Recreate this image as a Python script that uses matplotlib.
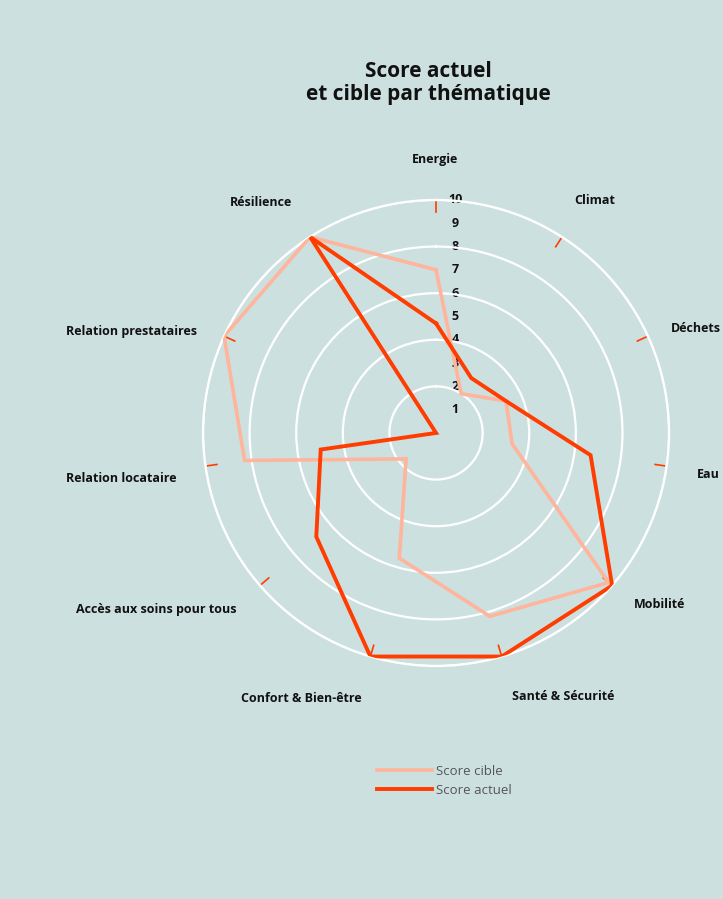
import numpy as np
import matplotlib.pyplot as plt
from matplotlib.transforms import offset_copy

plt.switch_backend("Agg")
plt.rcParams["font.family"] = ["Open Sans", "DejaVu Sans"]

categories = [
    "Energie", "Climat", "Déchets", "Eau", "Mobilité", "Santé & Sécurité",
    "Confort & Bien-être", "Accès aux soins pour tous", "Relation locataire",
    "Relation prestataires", "Résilience",
]
score_cible = [7.0, 2.0, 3.3, 3.3, 9.8, 8.2, 5.6, 1.7, 8.3, 10.0, 10.0]
score_actuel = [4.7, 2.8, 3.3, 6.7, 10.0, 10.0, 10.0, 6.8, 5.0, 0.0, 10.0]
radial_ticks = list(range(1, 11))
grid_levels = [2, 4, 6, 8, 10]

# where the category labels sit (pixel centres in the 723x899 canvas)
label_xy = [
    (435, 160), (595, 200), (696, 328), (708, 474), (660, 605), (563, 697),
    (301, 698), (156, 609), (121, 478), (131, 331), (261, 202),
]

W, H = 723, 899
BG = "#cde0e0"
C_CIBLE = "#ffb49c"
C_ACTUEL = "#ff3d00"

fig = plt.figure(figsize=(W / 100, H / 100), dpi=100, facecolor=BG)
ax = fig.add_axes([0.2808, 0.2592, 0.6446, 0.5184], projection="polar")
ax.set_facecolor(BG)
ax.patch.set_alpha(0)
ax.set_theta_zero_location("N")
ax.set_theta_direction(-1)
ax.set_ylim(0, 10)

n = len(categories)
theta = np.linspace(0, 2 * np.pi, n, endpoint=False)

# concentric white rings, no spokes
ax.set_xticks([])
ax.set_yticks(grid_levels)
ax.set_yticklabels([])
ax.yaxis.grid(True, color="white", linewidth=1.6)
ax.xaxis.grid(False)
ax.spines["polar"].set_color("white")
ax.spines["polar"].set_linewidth(1.6)
ax.tick_params(axis="y", length=0)

# small red marks near the rim on each axis
for t in theta:
    ax.plot([t, t], [9.5, 9.9], color=C_ACTUEL, linewidth=1.2, zorder=2)

# radial value labels, drawn below the series
lab_tr = offset_copy(ax.transData, fig=fig, x=19, y=0, units="dots")
for v in radial_ticks:
    ax.text(0, v, str(v), transform=lab_tr, ha="center", va="center",
            fontsize=9, fontweight="bold", color="#111111", zorder=1)

# category labels outside the ring
for (x, y), name in zip(label_xy, categories):
    fig.text(x / W, 1 - y / H, name, ha="center", va="center", fontsize=9,
             fontweight="bold", color="#111111")

tc = np.append(theta, theta[0])
ax.plot(tc, score_cible + score_cible[:1], color=C_CIBLE, linewidth=2.6,
        solid_joinstyle="miter", zorder=3, label="Score cible")
ax.plot(tc, score_actuel + score_actuel[:1], color=C_ACTUEL, linewidth=2.8,
        solid_joinstyle="miter", zorder=4, label="Score actuel")

fig.text(428 / W, 1 - 83 / H, "Score actuel\net cible par thématique",
         ha="center", va="center", fontsize=15, fontweight="bold",
         color="#111111", linespacing=1.15)

fig.legend(loc="upper left", bbox_to_anchor=(370 / W, 1 - 758 / H),
           frameon=False, fontsize=9.5, handlelength=4.2, handletextpad=0.3,
           borderpad=0, labelspacing=0.45, labelcolor="#555555")

fig.savefig("out.png", dpi=100, facecolor=BG)
